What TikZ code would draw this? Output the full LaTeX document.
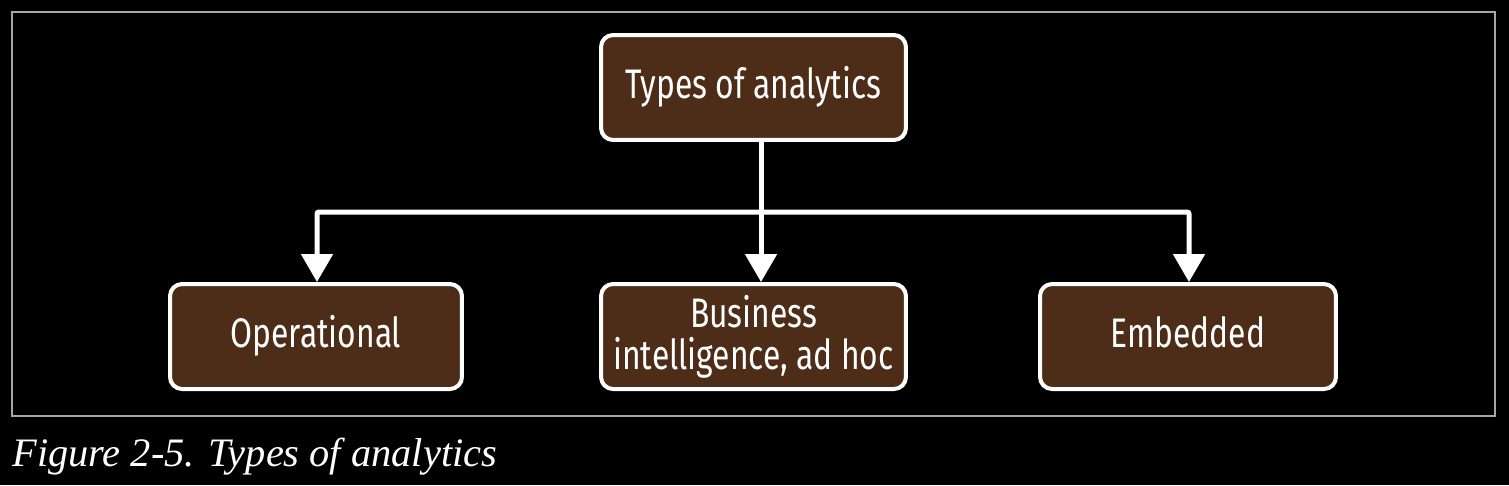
\documentclass[tikz,border=0pt]{standalone}
\usepackage{fontspec}
\newfontfamily\boxfont[FakeStretch=0.77]{Fira Sans}
\newfontfamily\capfont{Liberation Serif}
\usetikzlibrary{arrows.meta}
\definecolor{boxbrown}{RGB}{77,45,24}
\tikzset{
  kind/.style={draw=white, line width=0.08cm, fill=boxbrown, rounded corners=0.24cm,
    text=white, font=\boxfont\fontsize{23.5}{22}\selectfont, align=center,
    minimum height=2.1cm, inner sep=0pt},
  oneline/.style={text height=0.6cm, text depth=0.18cm},
  link/.style={white, line width=0.1cm},
  tip/.style={-{Triangle[width=0.62cm,length=0.56cm]}}
}
\begin{document}
\begin{tikzpicture}[x=0.02cm,y=-0.02cm]
\fill[black] (0,0) rectangle (1509,485);
\useasboundingbox (0,0) rectangle (1509,485);
\draw[gray!70, line width=0.03cm] (12,12) rectangle (1495,416);

\node[kind, oneline, minimum width=6.1cm] (top) at (753.5,87.5) {Types of analytics};
\node[kind, oneline, minimum width=5.84cm] (op) at (316,336.5) {Operational};
\node[kind, minimum width=6.1cm] (bi) at (753.5,336.5) {Business\\[2pt]intelligence, ad hoc};
\node[kind, oneline, minimum width=5.92cm] (em) at (1188,336.5) {Embedded};

\coordinate (split) at (761,212);
\draw[link] (split |- top.south) -- (split);
\draw[link,tip] (split) -- (split |- bi.north);
\draw[link,tip,rounded corners=0.04cm] (split) -- (split -| 317,0) -- (317,0 |- op.north);
\draw[link,tip,rounded corners=0.04cm] (split) -- (split -| 1189,0) -- (1189,0 |- em.north);

\node[anchor=base west, inner sep=0pt, text=white, font=\capfont\itshape\fontsize{23}{24}\selectfont] (cap) at (12,466) {Figure 2-5. Types of analytics};
\end{tikzpicture}
\end{document}
